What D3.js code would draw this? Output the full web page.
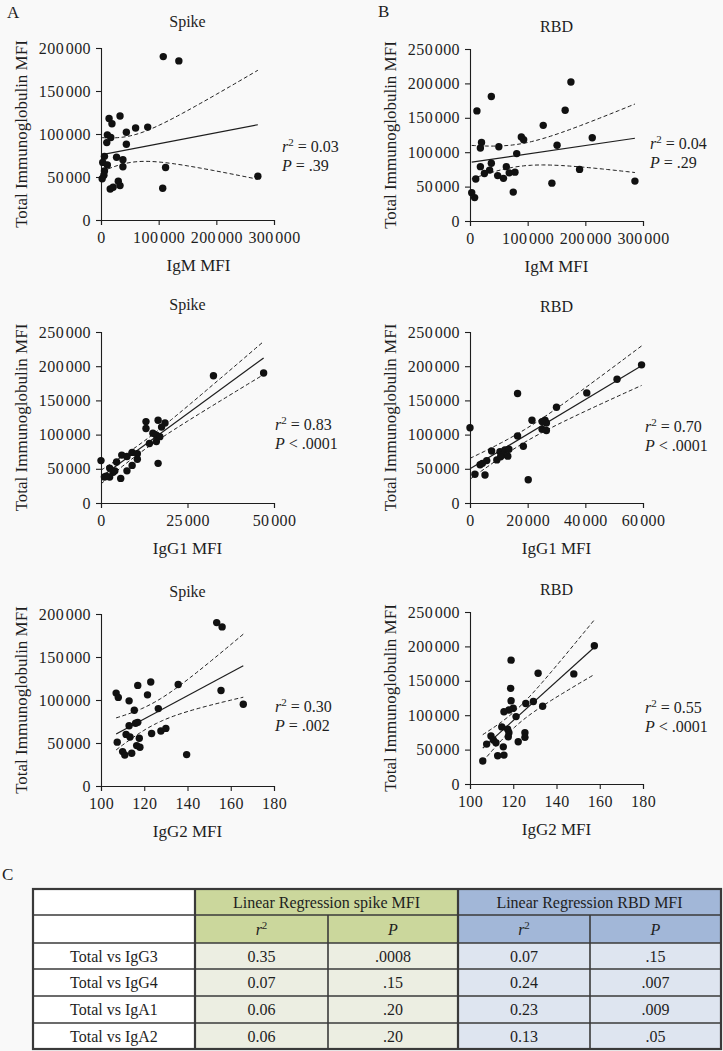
<!DOCTYPE html>
<html><head><meta charset="utf-8">
<script src="https://cdn.jsdelivr.net/npm/d3@7"></script>
<style>body{margin:0;background:#f9f9f9}svg{display:block}</style>
</head><body>
<svg id="c" width="723" height="1051"></svg>
<script>
// ---------- DATA ----------
const spikeIgM = [[108000,190000],[135000,185000],[272000,51000],[112000,61000],[107000,37000],[81000,108000],[60000,107000],[44000,102000],[44000,88000],[33000,121000],[14000,118000],[19000,112000],[11000,99000],[17000,96000],[10000,90000],[6000,74000],[27000,73000],[38000,70000],[38000,62000],[3000,67000],[11000,64000],[6000,57000],[5000,52000],[2000,48000],[30000,45000],[33000,40000],[16000,36000],[21000,38000]];
const rbdIgM = [[175000,202000],[37000,181000],[12000,160000],[165000,161000],[127000,139000],[212000,121000],[151000,110000],[89000,122000],[93000,118000],[50000,108000],[20000,114000],[18000,106000],[81000,98000],[37000,84000],[18000,79000],[34000,74000],[63000,79000],[25000,69000],[68000,70000],[78000,71000],[48000,66000],[58000,62000],[10000,61000],[75000,42000],[142000,55000],[190000,75000],[286000,58000],[3000,41000],[8000,34000]];
const spikeIgG1 = [[0,62000],[1000,38000],[47000,190000],[32500,186000],[18500,117000],[16500,121000],[13000,119000],[13000,109000],[17500,111000],[15000,102000],[16000,99000],[17000,97000],[14000,87000],[16000,90000],[16500,58000],[6000,70000],[7500,68000],[9000,74000],[10500,72000],[10500,64000],[9000,55000],[4500,60000],[7500,47000],[2500,51000],[3500,45000],[2500,38000],[5700,36000],[4000,47000],[1500,39000]];
const rbdIgG1 = [[59500,202000],[51000,181000],[40500,161000],[16500,160000],[30000,140000],[21500,121000],[26000,121000],[26500,117000],[25000,119000],[25000,108000],[26500,106000],[0,110000],[16500,98000],[18500,83000],[7500,76000],[10400,75000],[12100,77500],[13500,78500],[11200,70000],[13100,68500],[9300,63000],[10600,67500],[5800,62000],[3500,56000],[4300,58000],[1700,42000],[5200,41000],[20200,34000]];
const spikeIgG2 = [[153.5,190000],[156,185000],[155.5,111000],[165.8,95000],[135.7,118000],[123,121000],[117,117000],[121.5,106000],[107,108000],[108,103000],[113,99000],[115.4,88000],[126.5,90000],[116,73000],[117,74000],[113,70000],[111.6,60000],[113.4,57000],[117.7,55500],[123.4,61000],[127.7,64000],[130,67000],[107.5,51000],[116.5,47000],[118,45000],[110,40000],[111,36000],[114.2,38000],[139.6,36500]];
const rbdIgG2 = [[157.5,201000],[148,160000],[131.5,161000],[119,180000],[118.8,139000],[119,121000],[129.3,120000],[125.8,117000],[133.6,113000],[120,110000],[118,107500],[115.7,105000],[121.3,98000],[114.7,83000],[117.4,79500],[118,74600],[117.7,68700],[125.4,74600],[125.4,67800],[107.7,58000],[109.7,69800],[110.8,63900],[112,60000],[115.4,54000],[122.3,61500],[112.8,41000],[115.7,42000],[105.9,33500]];

const ticksIgM = [0,100000,200000,300000];
const ticksIgG1Spike = [0,25000,50000];
const ticksIgG1RBD = [0,20000,40000,60000];
const ticksIgG2 = [100,120,140,160,180];
const ticksTotal200 = [0,50000,100000,150000,200000];
const ticksTotal250 = [0,50000,100000,150000,200000,250000];

const statsR2 = ["0.03","0.04","0.83","0.70","0.30","0.55"];
const statsP = ["= .39","= .29","< .0001","< .0001","= .002","< .0001"];

const tableRows = ["Total vs IgG3","Total vs IgG4","Total vs IgA1","Total vs IgA2"];
const spikeR2 = ["0.35","0.07","0.06","0.06"];
const spikeP = [".0008",".15",".20",".20"];
const rbdR2 = ["0.07","0.24","0.23","0.13"];
const rbdP = [".15",".007",".009",".05"];

// ---------- DRAW ----------
const FONT = "'Liberation Serif','Times New Roman',serif";
const INK = "#1e1e1e";
const svg = d3.select("#c").style("font-family", FONT);
svg.append("rect").attr("width",723).attr("height",1051).attr("fill","#f9f9f9");

const fmt = v => d3.format(",")(v).replace(/,/g, "\u200A");

function regress(pts) {
  const n = pts.length;
  const mx = d3.mean(pts, d => d[0]), my = d3.mean(pts, d => d[1]);
  const sxx = d3.sum(pts, d => (d[0]-mx)**2);
  const sxy = d3.sum(pts, d => (d[0]-mx)*(d[1]-my));
  const b = sxy / sxx, a = my - b*mx;
  const sse = d3.sum(pts, d => (d[1] - a - b*d[0])**2);
  const s = Math.sqrt(sse/(n-2));
  const t = 2.05;
  return {a, b, band: x => t*s*Math.sqrt(1/n + (x-mx)**2/sxx)};
}

function panel(c) {
  const x = d3.scaleLinear().domain(c.xd).range([c.l, c.r]);
  const y = d3.scaleLinear().domain(c.yd).range([c.b, c.t]);
  const g = svg.append("g");
  const ax = g.append("g").attr("transform", `translate(0,${c.b})`)
    .call(d3.axisBottom(x).tickValues(c.xt).tickFormat(fmt).tickSizeOuter(0).tickSize(5).tickPadding(7));
  const ay = g.append("g").attr("transform", `translate(${c.l},0)`)
    .call(d3.axisLeft(y).tickValues(c.yt).tickFormat(fmt).tickSizeOuter(0).tickSize(5).tickPadding(5));
  [ax, ay].forEach(a => {
    a.attr("font-family", FONT);
    a.selectAll("path,line").attr("stroke", INK).attr("stroke-width", 1.1);
    a.selectAll("text").attr("font-family", FONT).attr("font-size", 16).attr("letter-spacing", 0.4).attr("fill", INK);
  });
  // title
  g.append("text").attr("x", (c.l+c.r)/2).attr("y", c.ty).attr("text-anchor","middle")
    .attr("font-size", 16).attr("fill", INK).text(c.title);
  // axis labels
  g.append("text").attr("x", (c.l+c.r)/2 + (c.xlo || 0)).attr("y", c.b + 51).attr("text-anchor","middle")
    .attr("font-size", 17).attr("fill", INK).text(c.xl);
  g.append("text").attr("transform", `translate(${c.l-74},${(c.t+c.b)/2}) rotate(-90)`)
    .attr("text-anchor","middle").attr("font-size", 17).attr("fill", INK).text("Total Immunoglobulin MFI");
  // regression
  const f = regress(c.data);
  const [x0, x1] = d3.extent(c.data, d => d[0]);
  const xs = d3.range(0, 61).map(i => x0 + (x1-x0)*i/60);
  const line = d3.line().x(d => x(d[0])).y(d => y(d[1]));
  g.append("path").attr("d", line([[x0, f.a+f.b*x0],[x1, f.a+f.b*x1]]))
    .attr("fill","none").attr("stroke", INK).attr("stroke-width", 1.2);
  [1,-1].forEach(sg => {
    g.append("path").attr("d", line(xs.map(v => [v, f.a + f.b*v + sg*f.band(v)])))
      .attr("fill","none").attr("stroke", INK).attr("stroke-width", 1).attr("stroke-dasharray","4,2.5");
  });
  // points
  g.selectAll("circle.p").data(c.data).join("circle")
    .attr("cx", d => x(d[0])).attr("cy", d => y(d[1])).attr("r", 3.7).attr("fill", "#111");
  // stats
  const t1 = g.append("text").attr("x", c.sx).attr("y", c.sy).attr("font-size", 16).attr("fill", INK);
  t1.append("tspan").attr("font-style","italic").text("r");
  t1.append("tspan").attr("dy", -6).attr("font-size", 11).text("2");
  t1.append("tspan").attr("dy", 6).text(" = " + c.r2);
  const t2 = g.append("text").attr("x", c.sx).attr("y", c.sy + 19).attr("font-size", 16).attr("fill", INK);
  t2.append("tspan").attr("font-style","italic").text("P");
  t2.append("tspan").text(" " + c.p);
}

const panels = [
  {l:101,r:274,t:48,b:220,xd:[0,300000],yd:[0,200000],xt:ticksIgM,yt:ticksTotal200,title:"Spike",ty:27,xl:"IgM MFI",xlo:11,data:spikeIgM,sx:282,sy:152,r2:statsR2[0],p:statsP[0]},
  {l:470,r:643,t:49,b:221,xd:[0,300000],yd:[0,250000],xt:ticksIgM,yt:ticksTotal250,title:"RBD",ty:32,xl:"IgM MFI",data:rbdIgM,sx:650,sy:149,r2:statsR2[1],p:statsP[1]},
  {l:101,r:274,t:332,b:503,xd:[0,50000],yd:[0,250000],xt:ticksIgG1Spike,yt:ticksTotal250,title:"Spike",ty:310,xl:"IgG1 MFI",data:spikeIgG1,sx:275,sy:430,r2:statsR2[2],p:statsP[2]},
  {l:470,r:643,t:332,b:503,xd:[0,60000],yd:[0,250000],xt:ticksIgG1RBD,yt:ticksTotal250,title:"RBD",ty:312,xl:"IgG1 MFI",data:rbdIgG1,sx:645,sy:432,r2:statsR2[3],p:statsP[3]},
  {l:101,r:274,t:614,b:786,xd:[100,180],yd:[0,200000],xt:ticksIgG2,yt:ticksTotal200,title:"Spike",ty:597,xl:"IgG2 MFI",data:spikeIgG2,sx:275,sy:712,r2:statsR2[4],p:statsP[4]},
  {l:470,r:643,t:612,b:784,xd:[100,180],yd:[0,250000],xt:ticksIgG2,yt:ticksTotal250,title:"RBD",ty:595,xl:"IgG2 MFI",data:rbdIgG2,sx:645,sy:713,r2:statsR2[5],p:statsP[5]}
];
panels.forEach(panel);

// panel letters
[["A",7,18],["B",378,17],["C",2,880]].forEach(([t,x,y]) =>
  svg.append("text").attr("x",x).attr("y",y).attr("font-size",17).attr("fill",INK).text(t));

// ---------- TABLE ----------
const colX = [33,195,328,458,590,721];
const rowY = [889,915,943,969,996,1023,1049];
const GH = "#cbd79c", GB = "#eceee2", BH = "#a2b7d8", BB = "#dee5f0";
const tg = svg.append("g");
function cell(c0, c1, r0, r1, fill) {
  tg.append("rect").attr("x", colX[c0]).attr("y", rowY[r0]).attr("width", colX[c1]-colX[c0])
    .attr("height", rowY[r1]-rowY[r0]).attr("fill", fill);
}
function ctext(c0, c1, r0, txt, opts={}) {
  const t = tg.append("text").attr("x", (colX[c0]+colX[c1])/2).attr("y", (rowY[r0]+rowY[r0+1])/2 + 5.5)
    .attr("text-anchor","middle").attr("font-size",16).attr("fill",INK);
  if (opts.r2) {
    t.append("tspan").attr("font-style","italic").text("r");
    t.append("tspan").attr("dy",-6).attr("font-size",11).text("2");
  } else if (opts.italic) {
    t.attr("font-style","italic").text(txt);
  } else t.text(txt);
}
// backgrounds
for (let r = 0; r < 6; r++) cell(0,1,r,r+1,"#ffffff");
cell(1,3,0,1,GH); cell(3,5,0,1,BH);
cell(1,3,1,2,GH); cell(3,5,1,2,BH);
cell(1,3,2,6,GB); cell(3,5,2,6,BB);
// header texts
ctext(1,3,0,"Linear Regression spike MFI");
ctext(3,5,0,"Linear Regression RBD MFI");
ctext(1,2,1,"",{r2:true}); ctext(2,3,1,"P",{italic:true});
ctext(3,4,1,"",{r2:true}); ctext(4,5,1,"P",{italic:true});
tableRows.forEach((lab,i) => {
  ctext(0,1,i+2,lab);
  ctext(1,2,i+2,spikeR2[i]); ctext(2,3,i+2,spikeP[i]);
  ctext(3,4,i+2,rbdR2[i]); ctext(4,5,i+2,rbdP[i]);
});
// grid lines
const LC = "#3a3a3a";
rowY.slice(1,-1).forEach(yv => tg.append("line").attr("x1",colX[0]).attr("x2",colX[5]).attr("y1",yv).attr("y2",yv).attr("stroke",LC).attr("stroke-width",1.6));
tg.append("line").attr("x1",colX[2]).attr("x2",colX[2]).attr("y1",rowY[1]).attr("y2",rowY[6]).attr("stroke",LC).attr("stroke-width",1.6);
tg.append("line").attr("x1",colX[4]).attr("x2",colX[4]).attr("y1",rowY[1]).attr("y2",rowY[6]).attr("stroke",LC).attr("stroke-width",1.6);
[colX[1],colX[3]].forEach(xv => tg.append("line").attr("x1",xv).attr("x2",xv).attr("y1",rowY[0]).attr("y2",rowY[6]).attr("stroke",LC).attr("stroke-width",2.2));
tg.append("rect").attr("x",colX[0]).attr("y",rowY[0]).attr("width",colX[5]-colX[0]).attr("height",rowY[6]-rowY[0])
  .attr("fill","none").attr("stroke",LC).attr("stroke-width",2.2);
</script>
</body></html>
